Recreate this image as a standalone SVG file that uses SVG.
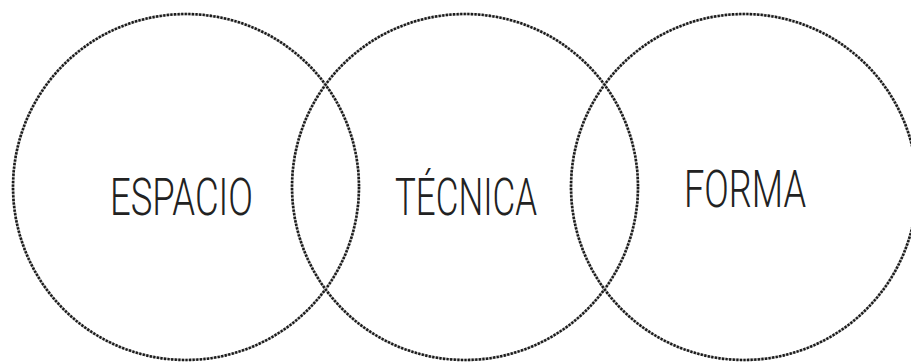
<svg xmlns="http://www.w3.org/2000/svg" width="911" height="363" viewBox="0 0 911 363">
<style>
.c{fill:none;stroke:#1a1a1a;stroke-width:2.6;stroke-dasharray:2.2 1.4}
.cb{fill:none;stroke:#bbb;stroke-width:2.6}
.t{font-family:Roboto,"Liberation Sans",sans-serif;font-weight:300;font-size:51px;fill:#222}
</style>
<rect width="911" height="363" fill="#fff"/>
<g id="espacio">
<circle class="cb" cx="186" cy="187" r="173"/>
<circle class="c" cx="186" cy="187" r="173"/>
<text class="t" x="110" y="215" textLength="143" lengthAdjust="spacingAndGlyphs">ESPACIO</text>
</g>
<g id="tecnica">
<circle class="cb" cx="465" cy="187" r="173"/>
<circle class="c" cx="465" cy="187" r="173"/>
<text class="t" x="395" y="215" textLength="142" lengthAdjust="spacingAndGlyphs">TÉCNICA</text>
</g>
<g id="forma">
<circle class="cb" cx="744" cy="187" r="173"/>
<circle class="c" cx="744" cy="187" r="173"/>
<text class="t" x="684" y="207" textLength="122" lengthAdjust="spacingAndGlyphs">FORMA</text>
</g>
<g id="connectors"/>
</svg>
